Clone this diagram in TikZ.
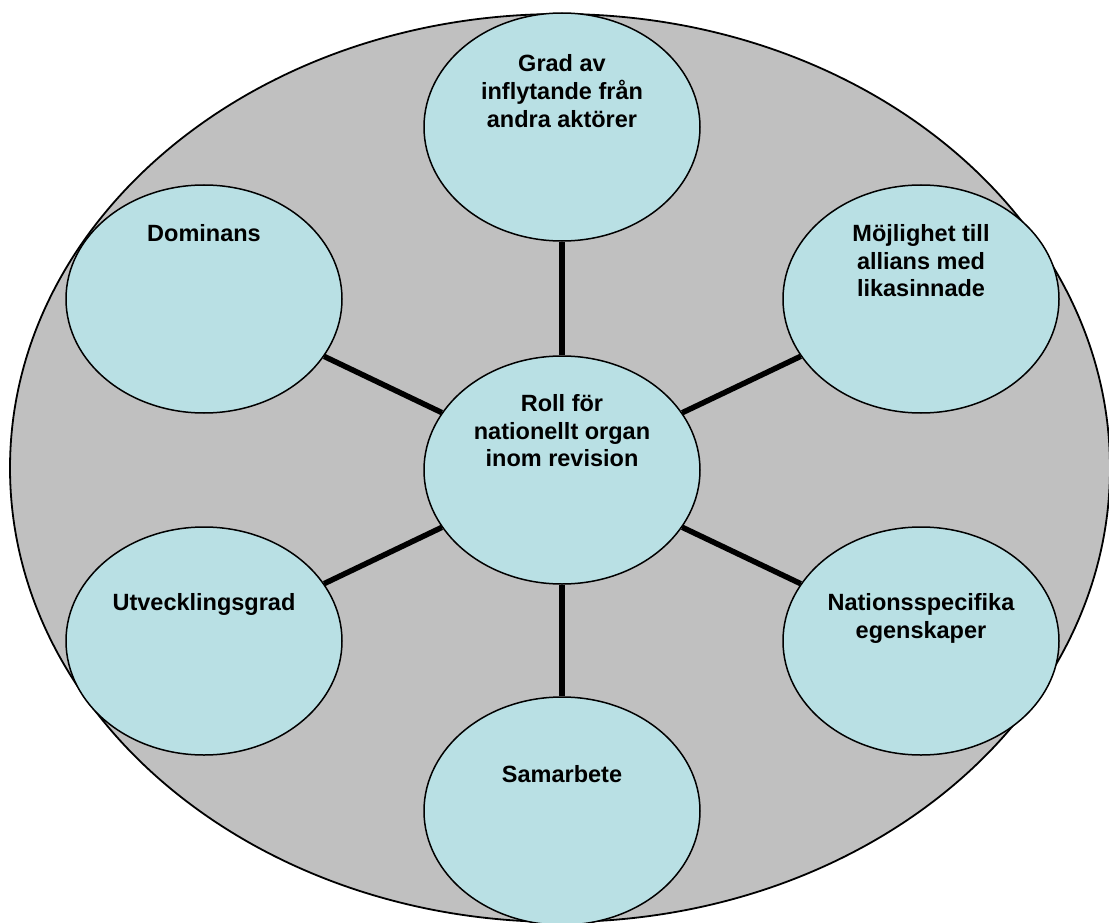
\documentclass[tikz,border=0pt]{standalone}
\usepackage{fontspec}
\setmainfont{Liberation Sans}
\usetikzlibrary{shapes.geometric,backgrounds}
\definecolor{bubble}{RGB}{185,224,228}
\definecolor{outergrey}{RGB}{192,192,192}
\tikzset{
  bubble/.style={ellipse, draw=black, line width=1.5pt, fill=bubble,
    minimum width=276pt, minimum height=228pt, inner sep=0pt},
  lbl/.style={anchor=north, inner sep=0pt, align=center,
    font=\fontsize{23.5}{27.5}\selectfont\bfseries},
  spoke/.style={line width=5.5pt, line cap=butt},
  outer/.style={ellipse, draw=black, line width=1.8pt, fill=outergrey,
    minimum width=1100pt, minimum height=908pt, inner sep=0pt}
}
\begin{document}
\begin{tikzpicture}[x=1pt,y=-1pt]
\useasboundingbox (0,0) rectangle (1109,923);
% bubbles
\node[bubble] (top) at (562,127) {};
\node[bubble] (mid) at (562,470) {};
\node[bubble] (dom) at (204,299) {};
\node[bubble] (moj) at (921,299) {};
\node[bubble] (utv) at (204,641) {};
\node[bubble] (nat) at (921,641) {};
\node[bubble] (sam) at (562,811) {};
% labels (first baseline - 19.25)
\node[lbl] (ttop) at (562,51.7) {\strut Grad av\\inflytande från\\andra aktörer};
\node[lbl] (tmid) at (562,392.4) {\strut Roll för\\nationellt organ\\inom revision};
\node[lbl] (tdom) at (204,222.4) {\strut Dominans};
\node[lbl] (tmoj) at (921,222.4) {\strut Möjlighet till\\allians med\\likasinnade};
\node[lbl] (tutv) at (204,591.4) {\strut Utvecklingsgrad};
\node[lbl] (tnat) at (921,591.4) {\strut Nationsspecifika\\egenskaper};
\node[lbl] (tsam) at (562,763.4) {\strut Samarbete};
\begin{scope}[on background layer]
\node[outer] (big) at (560,468) {};
\draw[spoke] (mid) -- (top);
\draw[spoke] (mid) -- (dom);
\draw[spoke] (mid) -- (moj);
\draw[spoke] (mid) -- (utv);
\draw[spoke] (mid) -- (nat);
\draw[spoke] (mid) -- (sam);
\end{scope}
\end{tikzpicture}
\end{document}
